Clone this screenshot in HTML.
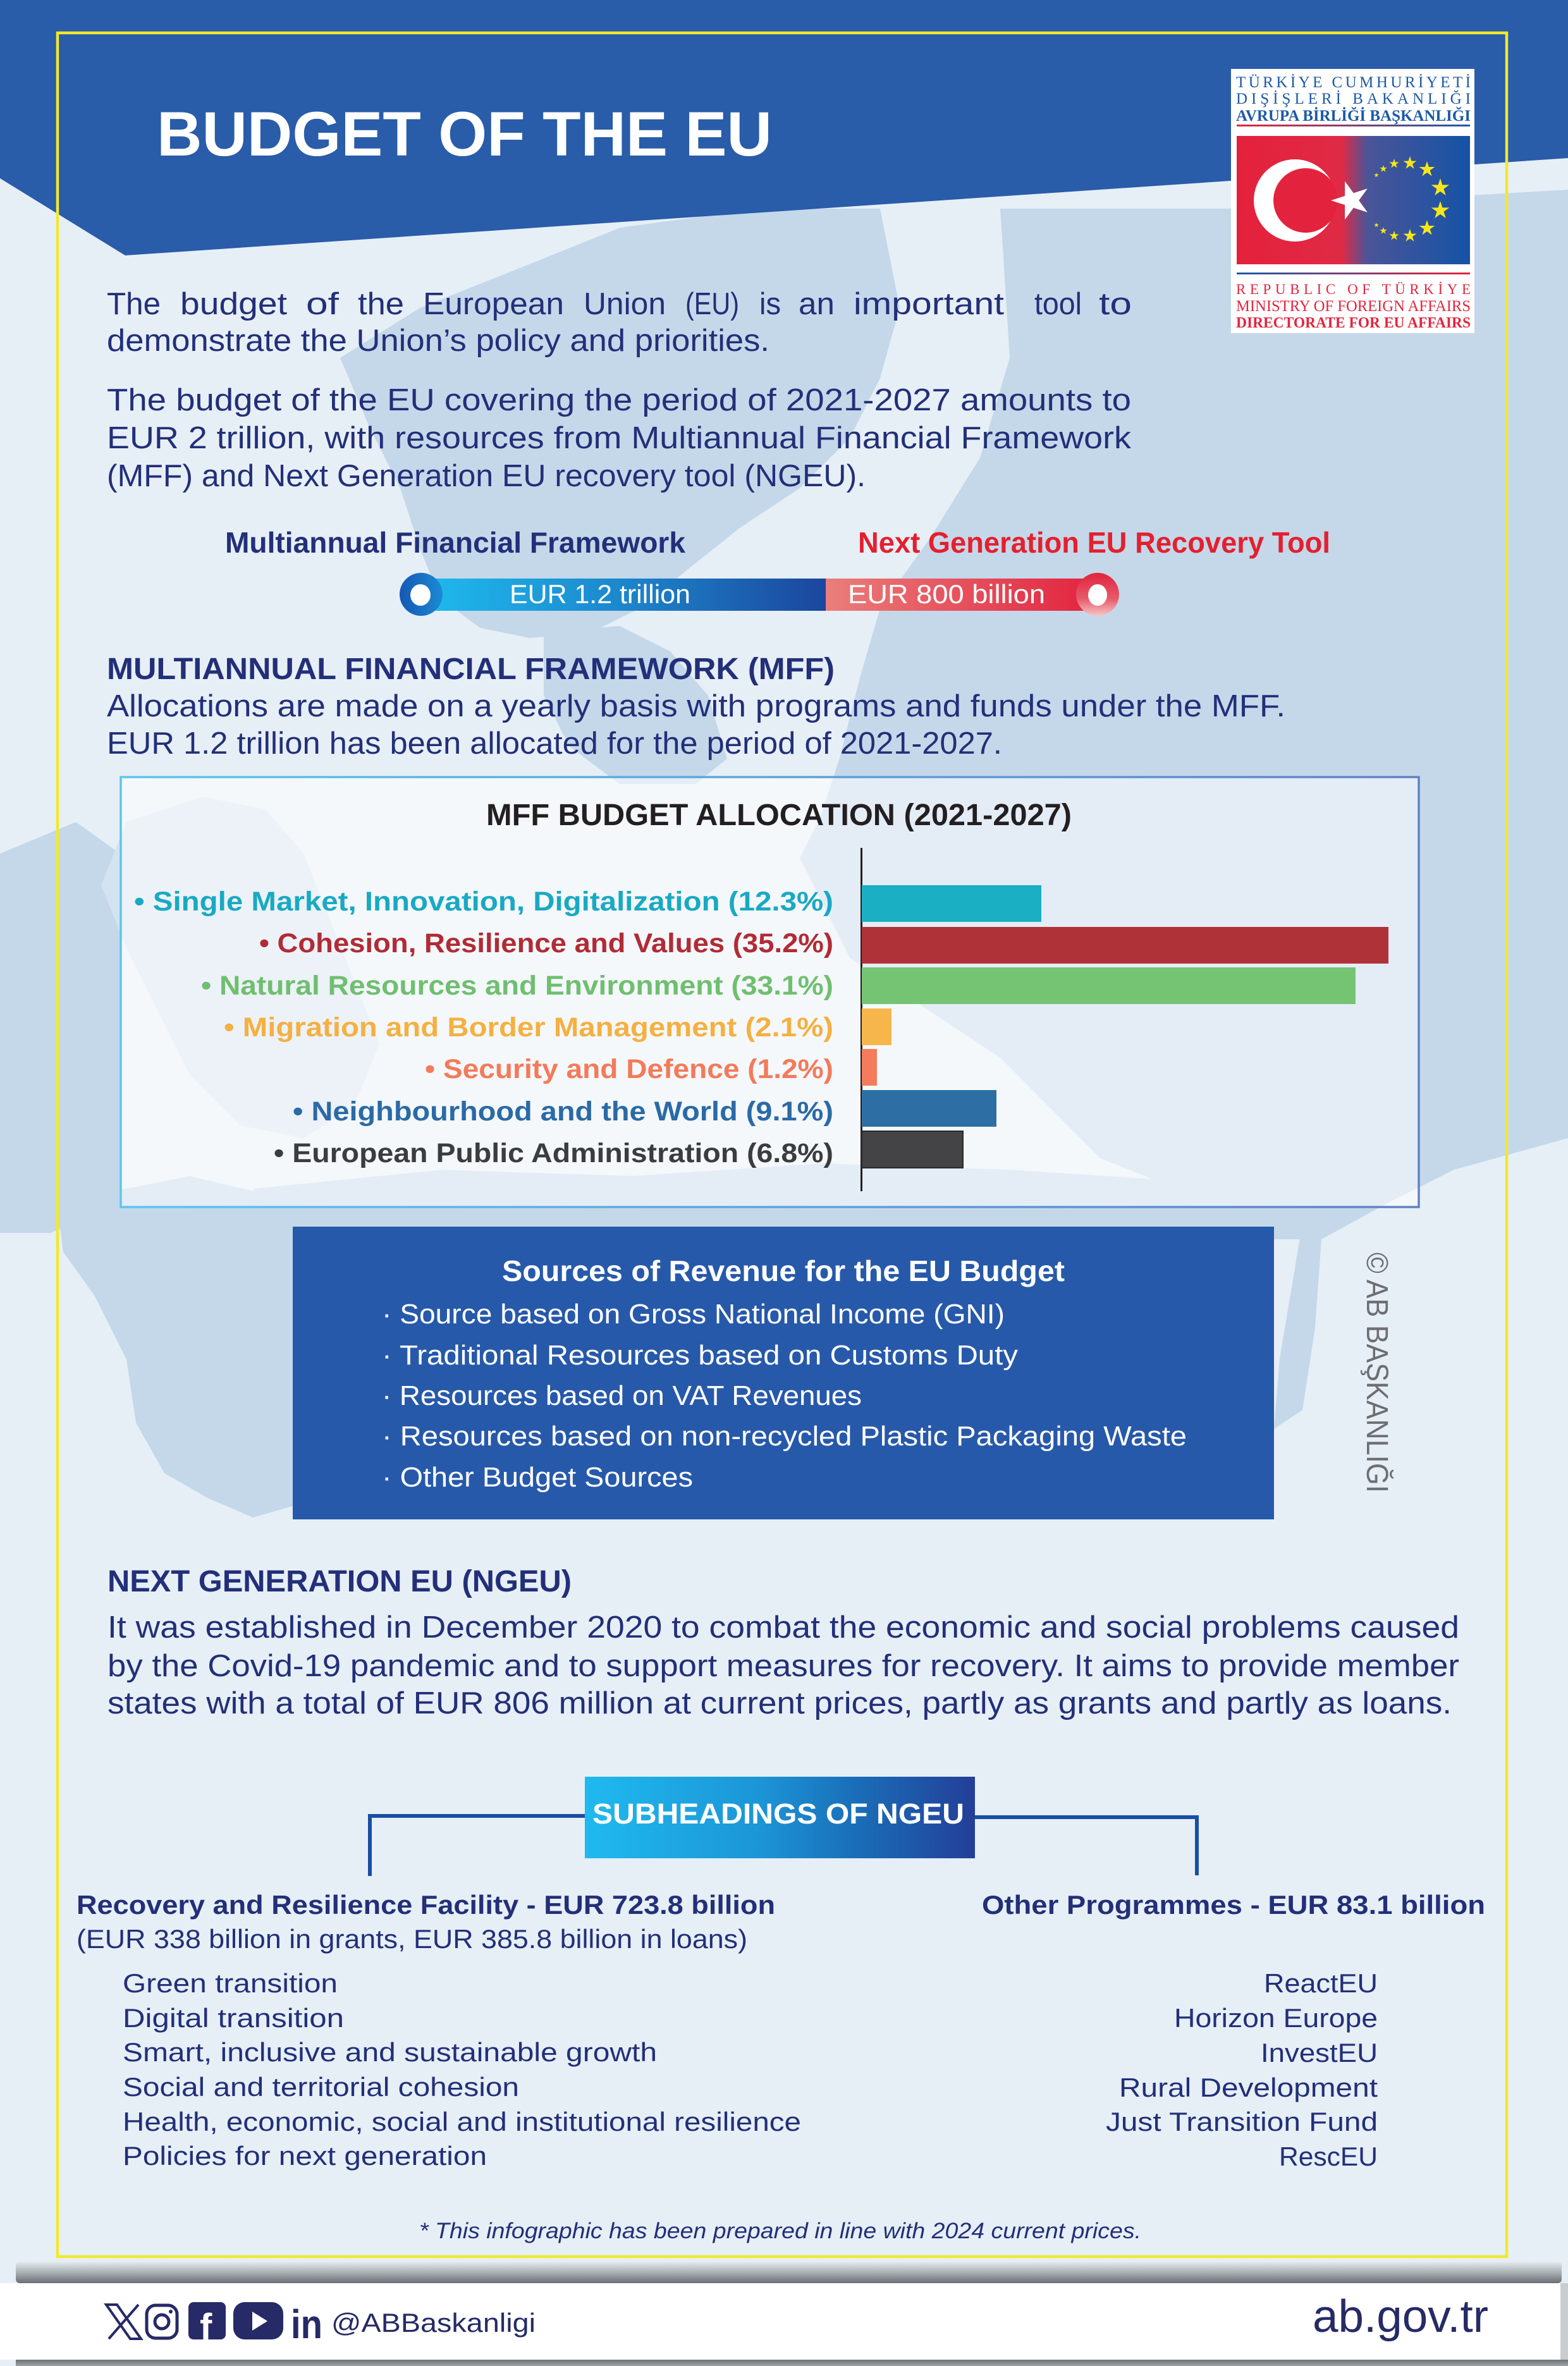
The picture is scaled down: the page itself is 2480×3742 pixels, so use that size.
<!DOCTYPE html>
<html>
<head>
<meta charset="utf-8">
<style>
html,body{margin:0;padding:0;background:#e6eff6;}
svg{display:block;}
</style>
</head>
<body>
<svg xmlns="http://www.w3.org/2000/svg" xmlns:xlink="http://www.w3.org/1999/xlink" width="2480" height="3742" viewBox="0 0 2480 3742" font-family="'Liberation Sans', sans-serif">
<defs>
  <polygon id="star" points="0,-1 0.2245,-0.309 0.9511,-0.309 0.3633,0.118 0.5878,0.809 0,0.382 -0.5878,0.809 -0.3633,0.118 -0.9511,-0.309 -0.2245,-0.309"/>
  <linearGradient id="flagG" x1="1956" y1="0" x2="2325" y2="0" gradientUnits="userSpaceOnUse">
    <stop offset="0" stop-color="#e4213c"/>
    <stop offset="0.45" stop-color="#e02a45"/>
    <stop offset="0.56" stop-color="#4a5598"/>
    <stop offset="1" stop-color="#1553a6"/>
  </linearGradient>
  <linearGradient id="rb" x1="1956" y1="0" x2="2325" y2="0" gradientUnits="userSpaceOnUse">
    <stop offset="0" stop-color="#e3263f"/>
    <stop offset="1" stop-color="#1d5aa6"/>
  </linearGradient>
  <linearGradient id="br" x1="1956" y1="0" x2="2325" y2="0" gradientUnits="userSpaceOnUse">
    <stop offset="0" stop-color="#1d5aa6"/>
    <stop offset="1" stop-color="#e3263f"/>
  </linearGradient>
  <linearGradient id="blueBar" x1="666" y1="0" x2="1306" y2="0" gradientUnits="userSpaceOnUse">
    <stop offset="0" stop-color="#1fbbee"/>
    <stop offset="0.5" stop-color="#1c86cc"/>
    <stop offset="1" stop-color="#1b469e"/>
  </linearGradient>
  <linearGradient id="redBar" x1="1306" y1="0" x2="1736" y2="0" gradientUnits="userSpaceOnUse">
    <stop offset="0" stop-color="#ea7e7b"/>
    <stop offset="1" stop-color="#e2233e"/>
  </linearGradient>
  <linearGradient id="leftCap" x1="0" y1="0" x2="1" y2="0">
    <stop offset="0" stop-color="#1558b3"/>
    <stop offset="1" stop-color="#1c8ad4"/>
  </linearGradient>
  <linearGradient id="rightCap" x1="0" y1="0" x2="0" y2="1">
    <stop offset="0" stop-color="#e0233d"/>
    <stop offset="0.6" stop-color="#e65a6a"/>
    <stop offset="1" stop-color="#f6c5c6"/>
  </linearGradient>
  <linearGradient id="chartBorder" x1="191" y1="0" x2="2244" y2="0" gradientUnits="userSpaceOnUse">
    <stop offset="0" stop-color="#5cc6ee"/>
    <stop offset="1" stop-color="#6183c4"/>
  </linearGradient>
  <linearGradient id="subG" x1="925" y1="0" x2="1542" y2="0" gradientUnits="userSpaceOnUse">
    <stop offset="0" stop-color="#1fbaef"/>
    <stop offset="0.45" stop-color="#1c95d6"/>
    <stop offset="0.7" stop-color="#1a6db8"/>
    <stop offset="1" stop-color="#233f98"/>
  </linearGradient>
  <linearGradient id="shd" x1="0" y1="0" x2="0" y2="1">
    <stop offset="0" stop-color="#e4ebef"/>
    <stop offset="0.5" stop-color="#aab0b4"/>
    <stop offset="1" stop-color="#686e73"/>
  </linearGradient>
  <linearGradient id="shd2" x1="0" y1="0" x2="0" y2="1">
    <stop offset="0" stop-color="#6d7276"/>
    <stop offset="1" stop-color="#9ea3a6"/>
  </linearGradient>
</defs>

<!-- background -->
<rect x="0" y="0" width="2480" height="3742" fill="#e6eff6"/>

<!-- map shapes -->
<g fill="#c4d8ea">
  <polygon points="538,566 664,487 822,424 981,360 1202,330 1392,330 1423,487 1392,598 1344,693 1265,772 1170,835 1091,898 1012,962 933,1001 838,1009 759,993 696,946 664,867 633,772 585,677"/>
  <polygon points="1582,330 1961,330 2480,300 2480,1800 2300,1850 2200,1900 2090,1960 2080,2100 2060,2230 2015,2260 2024,2148 2056,1958 1977,1926 1740,1832 1582,1673 1344,1515 1265,1357 1297,1294 1328,1199 1360,1072 1392,962 1471,851 1550,724 1597,566"/>
  <polygon points="90,1900 200,1880 300,1860 470,1900 470,2380 400,2400 330,2370 260,2330 215,2250 200,2150 150,2050 100,1980"/>
  <polygon points="400,1880 700,1850 1000,1860 1300,1840 1600,1850 1900,1870 2080,1900 2080,1960 470,1960"/>
  <polygon points="0,1350 120,1300 190,1350 190,1900 80,1950 0,1950"/>
  <polygon points="860,1000 980,990 1060,1030 1120,1100 1150,1200 1100,1240 980,1240 900,1180 860,1100"/>
</g>
<g fill="#d4e3f0">
  <polygon points="200,1300 320,1260 420,1280 480,1350 520,1450 560,1550 600,1650 560,1750 480,1800 380,1780 300,1700 250,1600 200,1500 160,1400"/>
</g>

<!-- header blue -->
<polygon points="0,0 2480,0 2480,250 198,404 0,282" fill="#295ca9"/>

<!-- yellow frame -->
<rect x="91" y="52" width="2292" height="3517" fill="none" stroke="#f2e92b" stroke-width="4.5"/>

<!-- title -->
<text x="248" y="246" font-size="99" font-weight="bold" fill="#ffffff" textLength="973" lengthAdjust="spacingAndGlyphs">BUDGET OF THE EU</text>

<!-- logo -->
<rect x="1947" y="109" width="385" height="418" fill="#ffffff"/>
<g font-family="'Liberation Serif', serif">
  <text x="1955" y="138" font-size="25" fill="#1d5aa6" textLength="371" lengthAdjust="spacing">TÜRKİYE CUMHURİYETİ</text>
  <text x="1955" y="164" font-size="25" fill="#1d5aa6" textLength="371" lengthAdjust="spacing">DIŞİŞLERİ BAKANLIĞI</text>
  <text x="1955" y="191" font-size="25" font-weight="bold" fill="#1d5aa6" textLength="371" lengthAdjust="spacingAndGlyphs">AVRUPA BİRLİĞİ BAŞKANLIĞI</text>
  <text x="1955" y="465" font-size="23" fill="#e3263f" textLength="371" lengthAdjust="spacing">REPUBLIC OF TÜRKİYE</text>
  <text x="1955" y="492" font-size="25" fill="#e3263f" textLength="371" lengthAdjust="spacingAndGlyphs">MINISTRY OF FOREIGN AFFAIRS</text>
  <text x="1955" y="518" font-size="24" font-weight="bold" fill="#e3263f" textLength="371" lengthAdjust="spacingAndGlyphs">DIRECTORATE FOR EU AFFAIRS</text>
</g>
<rect x="1956" y="197" width="369" height="3" fill="url(#rb)"/>
<rect x="1956" y="431" width="369" height="3" fill="url(#br)"/>
<rect x="1956" y="215" width="369" height="203" fill="url(#flagG)"/>
<circle cx="2048" cy="317" r="65" fill="#ffffff"/>
<circle cx="2065" cy="317" r="51" fill="#e3233e"/>
<use xlink:href="#star" href="#star" fill="#ffffff" transform="translate(2137,317) rotate(-90) scale(32)"/>
<g fill="#f7e619">
  <use xlink:href="#star" href="#star" transform="translate(2230,258) scale(11)"/>
  <use xlink:href="#star" href="#star" transform="translate(2257,268) scale(13)"/>
  <use xlink:href="#star" href="#star" transform="translate(2278,297) scale(15)"/>
  <use xlink:href="#star" href="#star" transform="translate(2278,333) scale(15)"/>
  <use xlink:href="#star" href="#star" transform="translate(2257,361) scale(13)"/>
  <use xlink:href="#star" href="#star" transform="translate(2230,373) scale(11)"/>
  <use xlink:href="#star" href="#star" transform="translate(2205,373) scale(8)"/>
  <use xlink:href="#star" href="#star" transform="translate(2188,365) scale(6)"/>
  <use xlink:href="#star" href="#star" transform="translate(2177,356) scale(4)"/>
  <use xlink:href="#star" href="#star" transform="translate(2177,277) scale(4)"/>
  <use xlink:href="#star" href="#star" transform="translate(2188,267) scale(6)"/>
  <use xlink:href="#star" href="#star" transform="translate(2205,259) scale(8)"/>
</g>

<!-- intro paragraphs -->
<g fill="#232f78" font-size="49">
  <text x="169" y="497" textLength="85" lengthAdjust="spacingAndGlyphs">The</text>
  <text x="285" y="497" textLength="169" lengthAdjust="spacingAndGlyphs">budget</text>
  <text x="484" y="497" textLength="52" lengthAdjust="spacingAndGlyphs">of</text>
  <text x="566" y="497" textLength="73" lengthAdjust="spacingAndGlyphs">the</text>
  <text x="669" y="497" textLength="223" lengthAdjust="spacingAndGlyphs">European</text>
  <text x="923" y="497" textLength="130" lengthAdjust="spacingAndGlyphs">Union</text>
  <text x="1084" y="497" textLength="85" lengthAdjust="spacingAndGlyphs">(EU)</text>
  <text x="1201" y="497" textLength="34" lengthAdjust="spacingAndGlyphs">is</text>
  <text x="1263" y="497" textLength="57" lengthAdjust="spacingAndGlyphs">an</text>
  <text x="1350" y="497" textLength="238" lengthAdjust="spacingAndGlyphs">important</text>
  <text x="1636" y="497" textLength="75" lengthAdjust="spacingAndGlyphs">tool</text>
  <text x="1738" y="497" textLength="52" lengthAdjust="spacingAndGlyphs">to</text>
  <text x="169" y="555" textLength="1048" lengthAdjust="spacingAndGlyphs">demonstrate the Union’s policy and priorities.</text>
  <text x="169" y="649" textLength="1620" lengthAdjust="spacingAndGlyphs">The budget of the EU covering the period of 2021-2027 amounts to</text>
  <text x="169" y="709" textLength="1620" lengthAdjust="spacingAndGlyphs">EUR 2 trillion, with resources from Multiannual Financial Framework</text>
  <text x="169" y="769" textLength="1200" lengthAdjust="spacingAndGlyphs">(MFF) and Next Generation EU recovery tool (NGEU).</text>
</g>

<!-- MFF / NGEU labels -->
<text x="356" y="874" font-size="46" font-weight="bold" fill="#232f78" textLength="728" lengthAdjust="spacingAndGlyphs">Multiannual Financial Framework</text>
<text x="1357" y="874" font-size="46" font-weight="bold" fill="#e4202e" textLength="747" lengthAdjust="spacingAndGlyphs">Next Generation EU Recovery Tool</text>

<!-- bar -->
<rect x="666" y="915" width="641" height="51" fill="url(#blueBar)"/>
<rect x="1306" y="915" width="430" height="51" fill="url(#redBar)"/>
<circle cx="666" cy="940" r="34" fill="url(#leftCap)"/>
<ellipse cx="665" cy="941" rx="16" ry="17" fill="#ffffff"/>
<circle cx="1736" cy="940" r="34" fill="url(#rightCap)"/>
<ellipse cx="1736" cy="941" rx="15" ry="17" fill="#ffffff"/>
<text x="806" y="954" font-size="42" fill="#ffffff" textLength="286" lengthAdjust="spacingAndGlyphs">EUR 1.2 trillion</text>
<text x="1341" y="954" font-size="42" fill="#ffffff" textLength="312" lengthAdjust="spacingAndGlyphs">EUR 800 billion</text>

<!-- MFF section -->
<text x="169" y="1074" font-size="48" font-weight="bold" fill="#232f78" textLength="1151" lengthAdjust="spacingAndGlyphs">MULTIANNUAL FINANCIAL FRAMEWORK (MFF)</text>
<text x="169" y="1133" font-size="49" fill="#232f78" textLength="1864" lengthAdjust="spacingAndGlyphs">Allocations are made on a yearly basis with programs and funds under the MFF.</text>
<text x="169" y="1192" font-size="49" fill="#232f78" textLength="1416" lengthAdjust="spacingAndGlyphs">EUR 1.2 trillion has been allocated for the period of 2021-2027.</text>

<!-- chart box -->
<rect x="191" y="1229" width="2053" height="680" fill="#ffffff" fill-opacity="0.55" stroke="url(#chartBorder)" stroke-width="3.5"/>
<text x="769" y="1305" font-size="48" font-weight="bold" fill="#231f20" textLength="926" lengthAdjust="spacingAndGlyphs">MFF BUDGET ALLOCATION (2021-2027)</text>
<rect x="1361" y="1341" width="3" height="543" fill="#231f20"/>
<rect x="1363" y="1400" width="284" height="58" fill="#1aafc3"/>
<rect x="1363" y="1466" width="833" height="58" fill="#b03239"/>
<rect x="1363" y="1530" width="781" height="58" fill="#74c474"/>
<rect x="1363" y="1595" width="47" height="58" fill="#f6b64b"/>
<rect x="1363" y="1659" width="24" height="58" fill="#f47b5b"/>
<rect x="1363" y="1724" width="213" height="58" fill="#2d6fa4"/>
<rect x="1363" y="1789" width="160" height="58" fill="#444446" stroke="#2a2a2c" stroke-width="2"/>
<g font-size="43" font-weight="bold">
  <text x="212" y="1440" fill="#19a9c3" textLength="1106" lengthAdjust="spacingAndGlyphs">• Single Market, Innovation, Digitalization (12.3%)</text>
  <text x="410" y="1506" fill="#b12b35" textLength="908" lengthAdjust="spacingAndGlyphs">• Cohesion, Resilience and Values (35.2%)</text>
  <text x="318" y="1573" fill="#6fbf6f" textLength="1000" lengthAdjust="spacingAndGlyphs">• Natural Resources and Environment (33.1%)</text>
  <text x="354" y="1639" fill="#f5b041" textLength="964" lengthAdjust="spacingAndGlyphs">• Migration and Border Management (2.1%)</text>
  <text x="672" y="1705" fill="#f47a59" textLength="646" lengthAdjust="spacingAndGlyphs">• Security and Defence (1.2%)</text>
  <text x="463" y="1772" fill="#2a6aa6" textLength="855" lengthAdjust="spacingAndGlyphs">• Neighbourhood and the World (9.1%)</text>
  <text x="433" y="1838" fill="#3c3c3e" textLength="885" lengthAdjust="spacingAndGlyphs">• European Public Administration (6.8%)</text>
</g>

<!-- sources box -->
<rect x="463" y="1940" width="1552" height="463" fill="#2759aa"/>
<text x="794" y="2026" font-size="46" font-weight="bold" fill="#ffffff" textLength="890" lengthAdjust="spacingAndGlyphs">Sources of Revenue for the EU Budget</text>
<g font-size="44" fill="#ffffff">
  <text x="604" y="2093" textLength="985" lengthAdjust="spacingAndGlyphs">· Source based on Gross National Income (GNI)</text>
  <text x="604" y="2158" textLength="1006" lengthAdjust="spacingAndGlyphs">· Traditional Resources based on Customs Duty</text>
  <text x="604" y="2222" textLength="759" lengthAdjust="spacingAndGlyphs">· Resources based on VAT Revenues</text>
  <text x="604" y="2286" textLength="1273" lengthAdjust="spacingAndGlyphs">· Resources based on non-recycled Plastic Packaging Waste</text>
  <text x="604" y="2351" textLength="492" lengthAdjust="spacingAndGlyphs">· Other Budget Sources</text>
</g>

<!-- watermark -->
<text transform="translate(2162,1981) rotate(90)" x="0" y="0" font-size="48" fill="#6d6e71" textLength="380" lengthAdjust="spacingAndGlyphs">© AB BAŞKANLIĞI</text>

<!-- NGEU -->
<text x="170" y="2517" font-size="48" font-weight="bold" fill="#232f78" textLength="734" lengthAdjust="spacingAndGlyphs">NEXT GENERATION EU (NGEU)</text>
<g font-size="49" fill="#232f78">
  <text x="170" y="2590" textLength="2138" lengthAdjust="spacingAndGlyphs">It was established in December 2020 to combat the economic and social problems caused</text>
  <text x="170" y="2651" textLength="2138" lengthAdjust="spacingAndGlyphs">by the Covid-19 pandemic and to support measures for recovery.  It aims to provide member</text>
  <text x="170" y="2710" textLength="2126" lengthAdjust="spacingAndGlyphs">states with a total of EUR 806 million at current prices, partly as grants and partly as loans.</text>
</g>

<!-- subheadings -->
<path d="M925,2872 H585 V2967" fill="none" stroke="#1a4ea2" stroke-width="6"/>
<path d="M1542,2874 H1893 V2966" fill="none" stroke="#1a4ea2" stroke-width="6"/>
<rect x="925" y="2810" width="617" height="129" fill="url(#subG)"/>
<text x="937" y="2884" font-size="45" font-weight="bold" fill="#ffffff" textLength="588" lengthAdjust="spacingAndGlyphs">SUBHEADINGS OF NGEU</text>

<g fill="#232f78" font-size="42">
  <text x="121" y="3027" font-weight="bold" textLength="1105" lengthAdjust="spacingAndGlyphs">Recovery and Resilience Facility - EUR 723.8 billion</text>
  <text x="121" y="3081" textLength="1061" lengthAdjust="spacingAndGlyphs">(EUR 338 billion in grants, EUR 385.8 billion in loans)</text>
  <text x="194" y="3151" textLength="340" lengthAdjust="spacingAndGlyphs">Green transition</text>
  <text x="194" y="3206" textLength="350" lengthAdjust="spacingAndGlyphs">Digital transition</text>
  <text x="194" y="3260" textLength="845" lengthAdjust="spacingAndGlyphs">Smart, inclusive and sustainable growth</text>
  <text x="194" y="3315" textLength="627" lengthAdjust="spacingAndGlyphs">Social and territorial cohesion</text>
  <text x="194" y="3370" textLength="1073" lengthAdjust="spacingAndGlyphs">Health, economic, social and institutional resilience</text>
  <text x="194" y="3424" textLength="576" lengthAdjust="spacingAndGlyphs">Policies for next generation</text>

  <text x="1553" y="3027" font-weight="bold" textLength="796" lengthAdjust="spacingAndGlyphs">Other Programmes - EUR 83.1 billion</text>
  <text x="1999" y="3151" textLength="180" lengthAdjust="spacingAndGlyphs">ReactEU</text>
  <text x="1857" y="3206" textLength="322" lengthAdjust="spacingAndGlyphs">Horizon Europe</text>
  <text x="1994" y="3261" textLength="185" lengthAdjust="spacingAndGlyphs">InvestEU</text>
  <text x="1770" y="3316" textLength="409" lengthAdjust="spacingAndGlyphs">Rural Development</text>
  <text x="1749" y="3370" textLength="430" lengthAdjust="spacingAndGlyphs">Just Transition Fund</text>
  <text x="2023" y="3425" textLength="156" lengthAdjust="spacingAndGlyphs">RescEU</text>
</g>

<text x="663" y="3540" font-size="35" font-style="italic" fill="#232f78" textLength="1142" lengthAdjust="spacingAndGlyphs">* This infographic has been prepared in line with 2024 current prices.</text>

<!-- footer -->
<rect x="25" y="3577" width="2445" height="34" rx="6" fill="url(#shd)"/>
<rect x="0" y="3611" width="2470" height="121" fill="#ffffff"/>
<rect x="2468" y="3611" width="12" height="121" fill="#c9cdd0"/>
<rect x="25" y="3732" width="2455" height="10" fill="url(#shd2)"/>

<g fill="#262a66">
  <!-- X logo -->
  <polygon points="168,3645 185,3645 223,3699 206,3699" fill="none" stroke="#262a66" stroke-width="4"/>
  <line x1="219" y1="3645" x2="172" y2="3699" stroke="#262a66" stroke-width="4"/>
  <!-- instagram -->
  <rect x="232" y="3646" width="48" height="52" rx="14" fill="none" stroke="#262a66" stroke-width="5"/>
  <circle cx="256" cy="3672" r="11" fill="none" stroke="#262a66" stroke-width="5"/>
  <circle cx="270" cy="3656" r="3"/>
  <!-- facebook -->
  <rect x="298" y="3641" width="59" height="59" rx="8"/>
  <text x="316" y="3700" font-size="58" font-weight="bold" fill="#ffffff">f</text>
  <!-- youtube -->
  <rect x="369" y="3641" width="79" height="59" rx="18"/>
  <polygon points="399,3656 399,3686 423,3671" fill="#ffffff"/>
  <!-- linkedin -->
  <text x="460" y="3698" font-size="64" font-weight="bold" textLength="50" lengthAdjust="spacingAndGlyphs">in</text>
  <text x="524" y="3688" font-size="42" textLength="323" lengthAdjust="spacingAndGlyphs">@ABBaskanligi</text>
  <text x="2076" y="3688" font-size="72" textLength="278" lengthAdjust="spacingAndGlyphs">ab.gov.tr</text>
</g>
</svg>
</body>
</html>
